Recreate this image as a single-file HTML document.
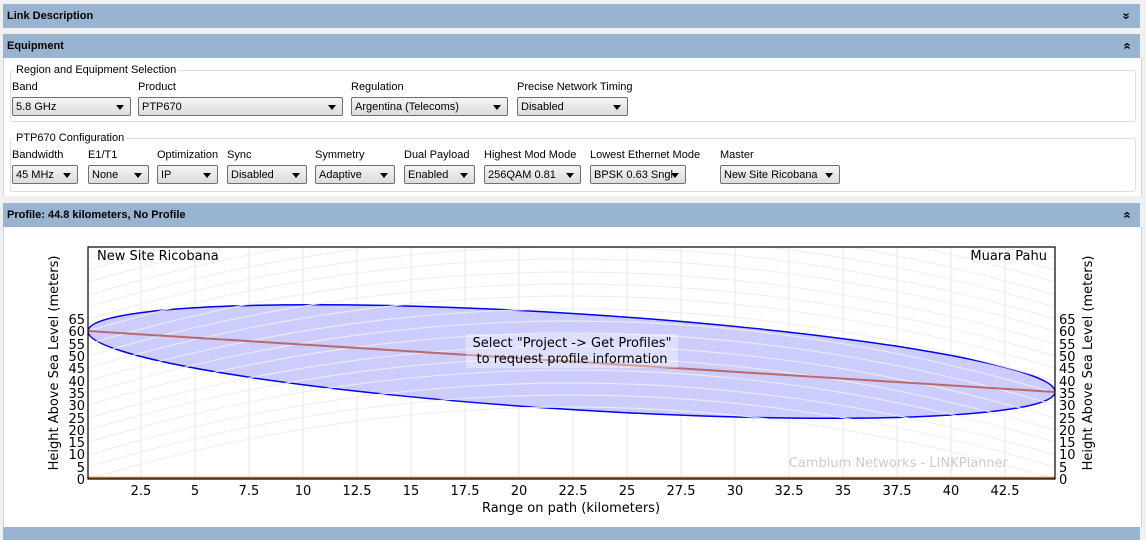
<!DOCTYPE html>
<html><head><meta charset="utf-8"><style>
body{margin:0;width:1146px;height:540px;background:#f0f0f0;font-family:"Liberation Sans",sans-serif;font-size:11px;color:#000;position:relative;overflow:hidden}
.bar{position:absolute;left:3px;width:1137px;height:24px;background:#99b4d1;font-weight:bold;font-size:11px;line-height:24px;}
.bar span{position:absolute;left:4px}
.bar i{position:absolute;right:10px;top:0;font-style:normal;font-size:13px;font-weight:bold;display:inline-block}
.dn{transform:rotate(90deg)}.up{transform:rotate(-90deg)}
.panel{position:absolute;left:3px;width:1137px;background:#fff;border-left:1px solid #c8d6e6;border-right:1px solid #c8d6e6}
fieldset{position:absolute;border:1px solid #d5dfe5;border-radius:3px;margin:0;padding:0}
legend{font-size:11px;padding:0 2px;margin-left:3px}
.l{position:absolute;font-size:11px}
.s{position:absolute;height:19px;border:1px solid #707070;border-radius:2px;background:linear-gradient(#f4f4f4,#dcdcdc);font-size:11px;line-height:19px;padding-left:3px;box-sizing:border-box;white-space:nowrap;overflow:hidden}
.s:after{content:"";position:absolute;right:6px;top:7px;border-left:4px solid transparent;border-right:4px solid transparent;border-top:5px solid #000}
</style></head><body>
<div class="bar" style="top:4px"><span>Link Description</span><i class="dn">»</i></div>
<div class="bar" style="top:34px"><span>Equipment</span><i class="up">»</i></div>
<div class="panel" style="top:58px;height:138px">
<fieldset style="left:6px;top:6px;width:1124px;height:56px"><legend>Region and Equipment Selection</legend></fieldset>
<div class="l" style="left:8px;top:23px">Band</div><div class="s" style="left:8px;top:39px;width:119px">5.8 GHz</div>
<div class="l" style="left:134px;top:23px">Product</div><div class="s" style="left:134px;top:39px;width:205px">PTP670</div>
<div class="l" style="left:347px;top:23px">Regulation</div><div class="s" style="left:347px;top:39px;width:157px">Argentina (Telecoms)</div>
<div class="l" style="left:513px;top:23px">Precise Network Timing</div><div class="s" style="left:513px;top:39px;width:111px">Disabled</div>
<fieldset style="left:6px;top:74px;width:1124px;height:58px"><legend>PTP670 Configuration</legend></fieldset>
<div class="l" style="left:8px;top:91px">Bandwidth</div><div class="s" style="left:8px;top:107px;width:66px">45 MHz</div>
<div class="l" style="left:84px;top:91px">E1/T1</div><div class="s" style="left:84px;top:107px;width:61px">None</div>
<div class="l" style="left:153px;top:91px">Optimization</div><div class="s" style="left:153px;top:107px;width:61px">IP</div>
<div class="l" style="left:223px;top:91px">Sync</div><div class="s" style="left:223px;top:107px;width:80px">Disabled</div>
<div class="l" style="left:311px;top:91px">Symmetry</div><div class="s" style="left:311px;top:107px;width:80px">Adaptive</div>
<div class="l" style="left:400px;top:91px">Dual Payload</div><div class="s" style="left:400px;top:107px;width:71px">Enabled</div>
<div class="l" style="left:480px;top:91px">Highest Mod Mode</div><div class="s" style="left:480px;top:107px;width:97px">256QAM 0.81</div>
<div class="l" style="left:586px;top:91px">Lowest Ethernet Mode</div><div class="s" style="left:586px;top:107px;width:96px;padding-right:16px">BPSK 0.63 Sngl</div>
<div class="l" style="left:716px;top:91px">Master</div><div class="s" style="left:716px;top:107px;width:120px">New Site Ricobana</div>
</div>
<div class="bar" style="top:203px"><span>Profile: 44.8 kilometers, No Profile</span><i class="up">»</i></div>
<div class="panel" style="top:227px;height:300px"></div>
<div class="bar" style="top:527px;height:13px"></div>
<svg style="position:absolute;left:0;top:0" width="1146" height="540" font-family="DejaVu Sans, sans-serif" font-size="13">
<defs><clipPath id="c"><rect x="88" y="247" width="967" height="232"/></clipPath></defs>
<g stroke="#e6e6e6" stroke-width="1">
<line x1="141" y1="247" x2="141" y2="479"/><line x1="195" y1="247" x2="195" y2="479"/><line x1="249" y1="247" x2="249" y2="479"/><line x1="303" y1="247" x2="303" y2="479"/><line x1="357" y1="247" x2="357" y2="479"/><line x1="411" y1="247" x2="411" y2="479"/><line x1="465" y1="247" x2="465" y2="479"/><line x1="519" y1="247" x2="519" y2="479"/><line x1="573" y1="247" x2="573" y2="479"/><line x1="627" y1="247" x2="627" y2="479"/><line x1="681" y1="247" x2="681" y2="479"/><line x1="735" y1="247" x2="735" y2="479"/><line x1="789" y1="247" x2="789" y2="479"/><line x1="843" y1="247" x2="843" y2="479"/><line x1="897" y1="247" x2="897" y2="479"/><line x1="951" y1="247" x2="951" y2="479"/><line x1="1005" y1="247" x2="1005" y2="479"/>
</g>
<g clip-path="url(#c)">
<ellipse cx="571.5" cy="361.5" rx="484.5" ry="48" transform="rotate(3.61 571.5 361.5)" fill="#ccccff" stroke="#0000ee" stroke-width="1.5"/>
<g fill="none" stroke="#eeeeee" stroke-width="1.2" opacity="0.9">
<path d="M88,479Q571,335 1055,479"/><path d="M88,467Q571,323 1055,467"/><path d="M88,455Q571,311 1055,455"/><path d="M88,442Q571,298 1055,442"/><path d="M88,430Q571,286 1055,430"/><path d="M88,418Q571,274 1055,418"/><path d="M88,405Q571,261 1055,405"/><path d="M88,393Q571,249 1055,393"/><path d="M88,381Q571,237 1055,381"/><path d="M88,368Q571,224 1055,368"/><path d="M88,356Q571,212 1055,356"/><path d="M88,344Q571,200 1055,344"/><path d="M88,331Q571,187 1055,331"/><path d="M88,319Q571,175 1055,319"/><path d="M88,307Q571,163 1055,307"/><path d="M88,295Q571,151 1055,295"/><path d="M88,282Q571,138 1055,282"/><path d="M88,270Q571,126 1055,270"/><path d="M88,258Q571,114 1055,258"/>
</g>
<line x1="88" y1="331" x2="1055" y2="392" stroke="#b86a6a" stroke-width="2"/>
<line x1="88" y1="478" x2="1055" y2="478" stroke="#b8702a" stroke-width="2.5"/>
</g>
<rect x="88" y="247" width="967" height="232" fill="none" stroke="#000" stroke-width="1.2"/>
<rect x="466" y="334" width="212" height="34" fill="#fff" opacity="0.35"/>
<text x="572" y="347" text-anchor="middle">Select "Project -&gt; Get Profiles"</text>
<text x="572" y="363" text-anchor="middle">to request profile information</text>
<text x="97" y="260">New Site Ricobana</text>
<text x="1047" y="260" text-anchor="end">Muara Pahu</text>
<text x="1008" y="467" text-anchor="end" fill="#cccccc">Cambium Networks - LINKPlanner</text>
<g text-anchor="middle">
<text x="141" y="495">2.5</text><text x="195" y="495">5</text><text x="249" y="495">7.5</text><text x="303" y="495">10</text><text x="357" y="495">12.5</text><text x="411" y="495">15</text><text x="465" y="495">17.5</text><text x="519" y="495">20</text><text x="573" y="495">22.5</text><text x="627" y="495">25</text><text x="681" y="495">27.5</text><text x="735" y="495">30</text><text x="789" y="495">32.5</text><text x="843" y="495">35</text><text x="897" y="495">37.5</text><text x="951" y="495">40</text><text x="1005" y="495">42.5</text>
<text x="571" y="512">Range on path (kilometers)</text>
</g>
<g text-anchor="end"><text x="85" y="484">0</text><text x="85" y="472">5</text><text x="85" y="459">10</text><text x="85" y="447">15</text><text x="85" y="435">20</text><text x="85" y="423">25</text><text x="85" y="410">30</text><text x="85" y="398">35</text><text x="85" y="386">40</text><text x="85" y="373">45</text><text x="85" y="361">50</text><text x="85" y="349">55</text><text x="85" y="336">60</text><text x="85" y="324">65</text></g>
<g><text x="1059" y="484">0</text><text x="1059" y="472">5</text><text x="1059" y="459">10</text><text x="1059" y="447">15</text><text x="1059" y="435">20</text><text x="1059" y="423">25</text><text x="1059" y="410">30</text><text x="1059" y="398">35</text><text x="1059" y="386">40</text><text x="1059" y="373">45</text><text x="1059" y="361">50</text><text x="1059" y="349">55</text><text x="1059" y="336">60</text><text x="1059" y="324">65</text></g>
<text transform="translate(58,363) rotate(-90)" text-anchor="middle">Height Above Sea Level (meters)</text>
<text transform="translate(1092,363) rotate(-90)" text-anchor="middle">Height Above Sea Level (meters)</text>
</svg>
</body></html>
